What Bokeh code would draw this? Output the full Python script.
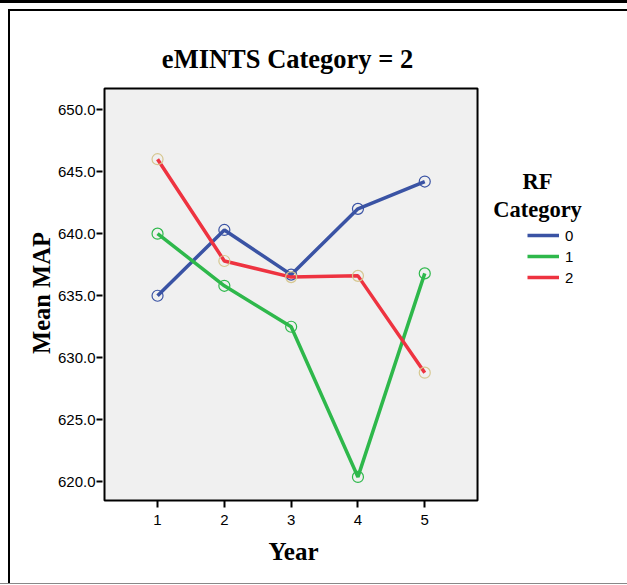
from bokeh.plotting import figure
from bokeh.models import (Range1d, Legend, LegendItem, Label, FixedTicker,
                          NumeralTickFormatter, BoxAnnotation)
from bokeh.embed import file_html
from bokeh.resources import INLINE

years = [1, 2, 3, 4, 5]
rf0 = [635.0, 640.3, 636.7, 642.0, 644.2]
rf1 = [640.0, 635.8, 632.5, 620.4, 636.8]
rf2 = [646.0, 637.8, 636.5, 636.6, 628.8]
y_ticks = [620, 625, 630, 635, 640, 645, 650]
series_labels = ["0", "1", "2"]
legend_title = ["RF", "Category"]
title_text = "eMINTS Category = 2"
x_label = "Year"
y_label = "Mean MAP"

line_colors = ["#3a53a4", "#2eb84b", "#ee3340"]
marker_colors = ["#3a53a4", "#2eb84b", "#d6c790"]

# plot box in data units
X0, X1 = 0.206, 5.79
Y0, Y1 = 618.5, 651.7

frame_styles = {
    "background-image": "linear-gradient(black, black), linear-gradient(black, black), "
                        "linear-gradient(black, black), linear-gradient(#888, #888)",
    "background-size": "100% 3px, 2px 574px, 100% 2px, 100% 1px",
    "background-position": "0px 0px, 8px 9px, 8px 9px, 0px 583px",
    "background-repeat": "no-repeat",
}

p = figure(width=627, height=585, output_backend="svg", toolbar_location=None,
           x_range=Range1d(0.176, 8.035), y_range=Range1d(611.65, 658.79),
           min_border_left=102, min_border_right=0, min_border_top=0, min_border_bottom=0,
           background_fill_alpha=0, border_fill_alpha=0, styles=frame_styles)

p.add_layout(BoxAnnotation(left=X0, right=X1, bottom=Y0, top=Y1, fill_color="#f0f0f0",
                           fill_alpha=1, line_color="black", line_alpha=1, line_width=2,
                           level="underlay"))

p.outline_line_color = None
p.xgrid.visible = False
p.ygrid.visible = False

for ax in (p.xaxis[0], p.yaxis[0]):
    ax.axis_line_color = None
    ax.major_tick_line_color = "black"
    ax.major_tick_line_width = 2
    ax.major_tick_in = 0
    ax.major_tick_out = 6
    ax.minor_tick_line_color = None
    ax.major_label_text_font = "Liberation Sans"
    ax.major_label_text_font_size = "15px"
    ax.major_label_text_color = "black"
    ax.axis_label_text_font = "Liberation Serif"
    ax.axis_label_text_font_style = "bold"
    ax.axis_label_text_color = "black"

p.xaxis.ticker = FixedTicker(ticks=years)
p.xaxis.fixed_location = Y0
p.xaxis.major_tick_out = 7
p.xaxis.major_label_standoff = 8

p.yaxis.ticker = FixedTicker(ticks=y_ticks)
p.yaxis.formatter = NumeralTickFormatter(format="0.0")
p.yaxis.axis_label = y_label
p.yaxis.axis_label_text_font_size = "24.5px"
p.yaxis.major_label_standoff = 1
p.yaxis.axis_label_standoff = 0

items = []
for vals, lc, mc, lab in zip([rf0, rf1, rf2], line_colors, marker_colors, series_labels):
    r = p.line(years, vals, line_color=lc, line_width=3.5)
    p.scatter(years, vals, marker="circle", size=11, fill_color=None, line_color=mc, line_width=1.2)
    items.append(LegendItem(label=lab, renderers=[r]))

legend = Legend(items=items, location=(425, 298), padding=0, margin=0,
                border_line_color=None, background_fill_alpha=0,
                glyph_width=32, glyph_height=20, label_height=20, spacing=1,
                label_standoff=6, label_text_font="Liberation Sans",
                label_text_font_size="15px", label_text_color="black")
p.add_layout(legend, "center")

def serif_label(txt, x, y, size):
    p.add_layout(Label(x=x, y=y, text=txt, text_align="center", text_baseline="alphabetic",
                       text_font="Liberation Serif", text_font_style="bold",
                       text_font_size=size, text_color="black"))

serif_label(title_text, 2.946, 654.09, "26.5px")
serif_label(x_label, 3.035, 614.37, "25px")
for txt, yv in zip(legend_title, (644.21, 641.95)):
    serif_label(txt, 6.688, yv, "22.5px")

open("out.html", "w").write(file_html(p, INLINE))
